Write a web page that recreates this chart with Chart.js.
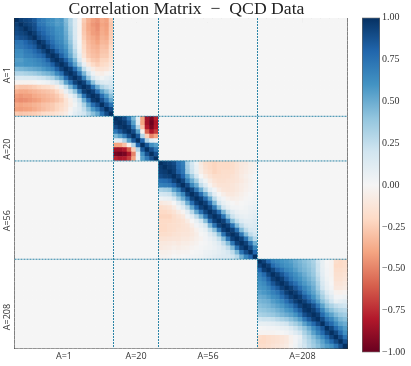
<!DOCTYPE html>
<html>
<head>
<meta charset="utf-8">
<script src="https://cdn.jsdelivr.net/npm/chart.js@4"></script>
<style>
    html, body { margin: 0; padding: 0; background: #fff; }
    #wrap { position: relative; width: 411px; height: 366px; overflow: hidden; }
    canvas { position: absolute; top: 0; }
    #matrix { left: 0; }
    #colorbar { left: 348px; }
</style>
</head>
<body>
<div id="wrap">
    <canvas id="matrix" width="373" height="366"></canvas>
    <canvas id="colorbar" width="63" height="366"></canvas>
</div>
<script>
// ========== DATA ========== //
const categories = ['A=1', 'A=20', 'A=56', 'A=208'];
const binCounts = [22, 10, 22, 20];
const tickBins = [11, 27, 43, 64];
const dividers = [22, 32, 54];
const colorbarTicks = [1, 0.75, 0.5, 0.25, 0, -0.25, -0.5, -0.75, -1];

// upper triangle of each block, one row per bin
const blockA1 = [
    [1, .95, .92, .9, .85, .74, .7, .64, .62, .56, .58, .44, .3, .14, -.02, -.26, -.36, -.42, -.45, -.38, -.41, -.26],
    [1, .95, .92, .88, .74, .72, .64, .62, .56, .58, .46, .3, .14, -.03, -.28, -.38, -.44, -.47, -.4, -.42, -.28],
    [1, .95, .9, .8, .76, .7, .67, .6, .6, .48, .32, .15, -.03, -.28, -.38, -.42, -.46, -.38, -.41, -.27],
    [1, .95, .85, .8, .72, .68, .62, .6, .5, .34, .15, -.03, -.27, -.36, -.42, -.44, -.37, -.4, -.26],
    [1, .9, .84, .78, .72, .64, .62, .52, .36, .16, -.02, -.25, -.34, -.38, -.42, -.35, -.37, -.25],
    [1, .95, .84, .76, .67, .64, .54, .4, .2, .01, -.22, -.32, -.36, -.4, -.33, -.34, -.23],
    [1, .92, .82, .72, .68, .58, .44, .22, .03, -.2, -.3, -.34, -.36, -.3, -.31, -.2],
    [1, .94, .82, .72, .63, .47, .27, .05, -.18, -.28, -.32, -.34, -.28, -.28, -.18],
    [1, .95, .82, .68, .52, .32, .1, -.14, -.26, -.3, -.32, -.26, -.26, -.17],
    [1, .94, .82, .64, .44, .17, -.06, -.2, -.26, -.28, -.22, -.22, -.14],
    [1, .93, .76, .54, .3, .07, -.1, -.2, -.24, -.2, -.18, -.11],
    [1, .95, .78, .54, .24, .07, -.08, -.14, -.14, -.12, -.07],
    [1, .93, .74, .46, .22, .05, -.05, -.06, -.02, .02],
    [1, .93, .68, .4, .18, .08, .03, .07, .1],
    [1, .93, .7, .42, .22, .15, .12, .15],
    [1, .95, .74, .5, .32, .25, .2],
    [1, .94, .76, .54, .42, .3],
    [1, .96, .76, .58, .42],
    [1, .88, .72, .52],
    [1, .88, .74],
    [1, .9],
    [1]
];
const blockA20 = [
    [1, .97, .9, .72, .45, .1, -.4, -.85, -.95, -.78],
    [1, .97, .85, .55, .12, -.4, -.85, -.98, -.82],
    [1, .95, .7, .3, -.3, -.8, -.95, -.8],
    [1, .9, .55, -.05, -.6, -.82, -.7],
    [1, .85, .3, -.25, -.5, -.4],
    [1, .8, .3, .1, .05],
    [1, .85, .62, .55],
    [1, .88, .72],
    [1, .88],
    [1]
];
const blockA56 = [
    [1, .96, .94, .9, .76, .68, .32, .18, .04, -.1, -.18, -.2, -.22, -.2, -.2, -.2, -.18, -.14, -.1, -.09, -.05, -.03],
    [1, .96, .93, .78, .7, .35, .2, .06, -.08, -.16, -.2, -.22, -.2, -.2, -.2, -.18, -.14, -.1, -.08, -.05, -.03],
    [1, .95, .82, .72, .38, .22, .08, -.06, -.14, -.18, -.22, -.2, -.18, -.18, -.17, -.13, -.09, -.07, -.04, -.02],
    [1, .93, .8, .55, .35, .18, 0, -.08, -.14, -.18, -.18, -.17, -.17, -.15, -.12, -.08, -.05, -.02, 0],
    [1, .92, .68, .5, .34, .12, .03, -.08, -.14, -.16, -.16, -.15, -.14, -.12, -.09, -.06, -.03, -.01],
    [1, .9, .65, .5, .25, .12, -.02, -.1, -.14, -.14, -.14, -.12, -.1, -.07, -.05, -.02, 0],
    [1, .92, .72, .5, .28, .1, .02, -.08, -.12, -.13, -.12, -.1, -.07, -.04, -.02, .01],
    [1, .93, .76, .52, .28, .1, 0, -.06, -.1, -.1, -.08, -.05, -.02, 0, .02],
    [1, .94, .78, .52, .26, .08, .02, -.04, -.06, -.05, -.03, -.01, .01, .03],
    [1, .94, .75, .46, .2, .08, .03, 0, -.02, 0, .01, .02, .04],
    [1, .92, .72, .42, .18, .08, .03, .02, .01, .03, .05, .06],
    [1, .93, .76, .46, .24, .12, .06, .04, .04, .06, .08],
    [1, .94, .74, .42, .22, .12, .08, .06, .08, .1],
    [1, .94, .72, .42, .24, .14, .1, .1, .12],
    [1, .94, .74, .44, .26, .16, .13, .14],
    [1, .94, .74, .44, .26, .18, .15],
    [1, .94, .72, .44, .26, .2],
    [1, .94, .74, .46, .28],
    [1, .93, .74, .48],
    [1, .9, .66],
    [1, .8],
    [1]
];
const blockA208 = [
    [1, .93, .8, .68, .64, .6, .58, .55, .5, .46, .42, .38, .32, .2, .08, 0, -.02, -.18, -.2, -.18],
    [1, .95, .78, .7, .64, .6, .58, .52, .48, .44, .4, .34, .22, .08, .01, -.02, -.2, -.2, -.18],
    [1, .92, .82, .74, .66, .62, .56, .5, .46, .42, .36, .22, .09, .02, -.02, -.18, -.18, -.16],
    [1, .95, .86, .76, .68, .62, .56, .5, .44, .38, .24, .1, .02, -.02, -.16, -.16, -.14],
    [1, .95, .84, .74, .66, .6, .54, .48, .42, .28, .13, .04, -.01, -.15, -.15, -.12],
    [1, .94, .84, .76, .66, .58, .52, .46, .32, .16, .06, 0, -.12, -.12, -.1],
    [1, .95, .86, .76, .66, .58, .5, .36, .2, .08, .02, -.1, -.1, -.08],
    [1, .95, .86, .72, .62, .54, .42, .28, .14, .06, -.03, -.04, -.02],
    [1, .95, .84, .74, .6, .48, .34, .22, .12, .02, .02, .04],
    [1, .94, .84, .72, .56, .42, .3, .2, .08, .1, .12],
    [1, .97, .88, .72, .54, .4, .32, .25, .22, .2],
    [1, .95, .84, .66, .5, .42, .34, .3, .28],
    [1, .95, .78, .62, .54, .44, .38, .35],
    [1, .9, .74, .66, .54, .46, .42],
    [1, .86, .78, .64, .54, .5],
    [1, .92, .78, .66, .56],
    [1, .92, .78, .62],
    [1, .9, .74],
    [1, .88],
    [1]
];

// RdBu, low to high
const cmapStops = [-1, -0.8, -0.6, -0.4, -0.2, 0, 0.2, 0.4, 0.6, 0.8, 1];
const cmapColors = [
    [103, 0, 31], [178, 24, 43], [214, 96, 77], [244, 165, 130], [253, 219, 199],
    [245, 245, 245],
    [209, 229, 240], [146, 197, 222], [67, 147, 195], [33, 102, 172], [5, 48, 97]
];

function colorFor(v) {
    let i = 0;
    while (i < cmapStops.length - 2 && v > cmapStops[i + 1]) i++;
    const t = (v - cmapStops[i]) / (cmapStops[i + 1] - cmapStops[i]);
    const a = cmapColors[i], b = cmapColors[i + 1];
    return `rgb(${a.map((c, k) => Math.round(c + (b[k] - c) * t)).join(',')})`;
}

// ========== MATRIX CELLS ========== //
const blocks = [blockA1, blockA20, blockA56, blockA208];
const binTotal = binCounts.reduce((a, b) => a + b, 0);
const cells = new Array(binTotal * binTotal).fill(0);
let offset = 0;
blocks.forEach((rows, b) => {
    rows.forEach((row, i) => {
        row.forEach((v, k) => {
            const r = offset + i, c = offset + i + k;
            cells[r * binTotal + c] = v;
            cells[c * binTotal + r] = v;
        });
    });
    offset += binCounts[b];
});
const cellPoints = cells.map((v, n) => ({
    x: n % binTotal + 0.5,
    y: Math.floor(n / binTotal) + 0.5,
    v
}));

const dividerSets = [];
dividers.forEach(d => {
    [[{ x: d, y: 0 }, { x: d, y: binTotal }], [{ x: 0, y: d }, { x: binTotal, y: d }]].forEach(line => {
        dividerSets.push({
            data: line,
            showLine: true,
            order: 1,
            borderColor: '#2a84a6',
            borderWidth: 1,
            borderDash: [2, 1],
            pointRadius: 0
        });
    });
});

// ========== AXES ========== //
const spine = { display: true, color: '#333', width: 1 };
const axisBase = {
    type: 'linear',
    min: 0,
    max: binTotal,
    afterBuildTicks: scale => { scale.ticks = tickBins.map(value => ({ value })); },
    grid: { drawOnChartArea: false, drawTicks: true, tickLength: -5, color: '#555' },
    border: spine
};

new Chart(document.getElementById('matrix'), {
    type: 'scatter',
    data: {
        datasets: [{
            data: cellPoints,
            order: 2,
            pointStyle: 'rect',
            pointBorderWidth: 0,
            pointRadius: ctx => (ctx.chart.scales.x.width / binTotal / 2 + 0.3) * Math.SQRT2,
            pointBackgroundColor: ctx => colorFor(ctx.raw.v)
        }, ...dividerSets]
    },
    options: {
        responsive: false,
        animation: false,
        events: [],
        plugins: {
            legend: { display: false },
            tooltip: { enabled: false },
            title: {
                display: true,
                text: 'Correlation Matrix  −  QCD Data',
                color: '#222',
                font: { family: '"Liberation Serif"', size: 17.7, weight: 'normal', lineHeight: 18 / 17.7 },
                padding: 0
            }
        },
        scales: {
            x: {
                ...axisBase,
                position: 'bottom',
                afterFit: s => { s.height = 15; },
                ticks: {
                    color: '#333',
                    padding: 7,
                    autoSkip: false,
                    maxRotation: 0,
                    font: { family: '"Open Sans"', size: 9 },
                    callback: (v, i) => categories[i]
                }
            },
            y: {
                ...axisBase,
                position: 'left',
                reverse: true,
                afterFit: s => { s.width = 14.5; },
                ticks: {
                    color: '#333',
                    padding: 12,
                    autoSkip: false,
                    minRotation: 90,
                    maxRotation: 90,
                    font: { family: '"Open Sans"', size: 9 },
                    callback: (v, i) => categories[i]
                }
            },
            xTop: {
                ...axisBase,
                position: 'top',
                afterFit: s => { s.height = 0; },
                ticks: { display: false }
            },
            yRight: {
                ...axisBase,
                position: 'right',
                reverse: true,
                afterFit: s => { s.width = 25.5; },
                ticks: { display: false }
            }
        }
    }
});

// ========== COLORBAR ========== //
const colorbarRange = [[-1, 1]];

function colorbarFill(ctx) {
    const chart = ctx.chart;
    if (!chart.chartArea) return colorFor(0);
    const yScale = chart.scales.y;
    const grad = chart.ctx.createLinearGradient(0, yScale.getPixelForValue(-1), 0, yScale.getPixelForValue(1));
    cmapStops.forEach(s => grad.addColorStop((s + 1) / 2, colorFor(s)));
    return grad;
}

new Chart(document.getElementById('colorbar'), {
    type: 'bar',
    data: {
        labels: ['r'],
        datasets: [{
            data: colorbarRange,
            backgroundColor: colorbarFill,
            borderColor: '#666',
            borderWidth: 1,
            borderSkipped: false,
            barPercentage: 1,
            categoryPercentage: 1
        }]
    },
    options: {
        responsive: false,
        animation: false,
        events: [],
        layout: { padding: { left: 14, right: 0, top: 17.5, bottom: 13.5 } },
        plugins: { legend: { display: false }, tooltip: { enabled: false } },
        scales: {
            x: { display: false },
            y: {
                position: 'right',
                min: -1,
                max: 1,
                afterBuildTicks: scale => { scale.ticks = colorbarTicks.map(value => ({ value })); },
                afterFit: s => { s.width = 31; },
                grid: { drawOnChartArea: false, drawTicks: false },
                border: { display: false },
                ticks: {
                    color: '#333',
                    padding: 2,
                    font: { family: '"Liberation Serif"', size: 10 },
                    callback: v => v.toFixed(2).replace('-', '−')
                }
            }
        }
    }
});
</script>
</body>
</html>
